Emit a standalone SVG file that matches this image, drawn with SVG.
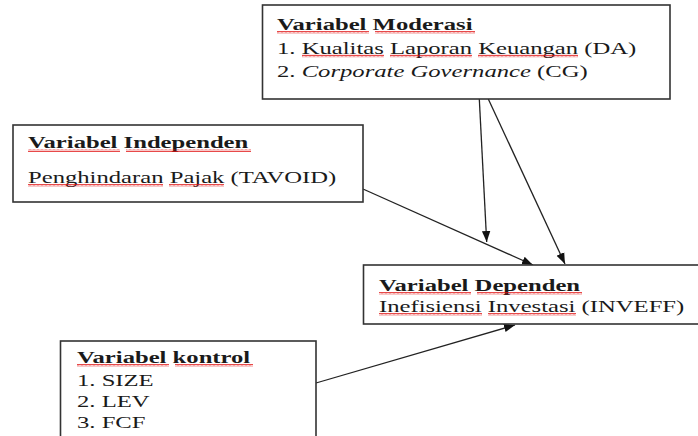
<svg xmlns="http://www.w3.org/2000/svg" width="698" height="436" viewBox="0 0 698 436">
<style>
.box{fill:#fff;stroke:#333;stroke-width:1.6}
.t{font-family:"Liberation Serif","Times New Roman",serif;font-size:16.66px;fill:#1a1a1a}
.b{font-weight:bold}
.i{font-style:italic}
.edge{stroke:#222;stroke-width:1.3;fill:none;marker-end:url(#ah)}
.sq{fill:url(#wavy)}
</style>
<defs>
<marker id="ah" markerUnits="userSpaceOnUse" markerWidth="12" markerHeight="10" refX="11" refY="5" orient="auto">
<path d="M0,0.8 L11,5 L0,9.2 Z" fill="#111"/>
</marker>
<pattern id="wavy" patternUnits="userSpaceOnUse" x="0" y="0" width="4" height="3">
<path d="M0,2.5 L1,0.7 L2,2.5 L3,0.7 L4,2.5" stroke="#e01010" stroke-width="0.8" fill="none"/>
</pattern>
</defs>
<rect width="698" height="436" fill="#fff"/>

<g id="connectors">
<line class="edge" x1="479.3" y1="99" x2="486.7" y2="242"/>
<line class="edge" x1="488.3" y1="99" x2="565" y2="264"/>
<line class="edge" x1="363" y1="189" x2="533" y2="265"/>
<line class="edge" x1="316" y1="383" x2="515" y2="325"/>
</g>

<g id="moderasi">
<rect class="box" x="262.5" y="5" width="407.5" height="94"/>
<text class="t b" transform="translate(277,30) scale(1.48,1)">Variabel Moderasi</text>
<text class="t" transform="translate(277,53.5) scale(1.48,1)">1. Kualitas Laporan Keuangan (DA)</text>
<text class="t" transform="translate(277,77) scale(1.48,1)">2. <tspan class="i">Corporate Governance</tspan> (CG)</text>
<rect class="sq" x="277" y="31" width="92" height="3"/>
<rect class="sq" x="375" y="31" width="100" height="3"/>
<rect class="sq" x="302" y="54.5" width="82" height="3"/>
<rect class="sq" x="390" y="54.5" width="82" height="3"/>
<rect class="sq" x="478" y="54.5" width="100" height="3"/>
</g>

<g id="independen">
<rect class="box" x="13" y="125" width="350" height="77"/>
<text class="t b" transform="translate(28,148) scale(1.48,1)">Variabel Independen</text>
<text class="t" transform="translate(28,183) scale(1.48,1)">Penghindaran Pajak (TAVOID)</text>
<rect class="sq" x="28" y="149" width="92" height="3"/>
<rect class="sq" x="126" y="149" width="125" height="3"/>
<rect class="sq" x="28" y="184" width="135" height="3"/>
<rect class="sq" x="169" y="184" width="55" height="3"/>
</g>

<g id="dependen">
<rect class="box" x="363.5" y="265" width="340" height="59"/>
<text class="t b" transform="translate(379,291) scale(1.48,1)">Variabel Dependen</text>
<text class="t" transform="translate(379,312) scale(1.48,1)">Inefisiensi Investasi (INVEFF)</text>
<rect class="sq" x="379" y="292" width="92" height="3"/>
<rect class="sq" x="477" y="292" width="105" height="3"/>
<rect class="sq" x="379" y="313" width="103" height="3"/>
<rect class="sq" x="488" y="313" width="88" height="3"/>
</g>

<g id="kontrol">
<rect class="box" x="60.5" y="341" width="255.5" height="110"/>
<text class="t b" transform="translate(77,363) scale(1.48,1)">Variabel kontrol</text>
<text class="t" transform="translate(77,385.5) scale(1.48,1)">1. SIZE</text>
<text class="t" transform="translate(77,406.5) scale(1.48,1)">2. LEV</text>
<text class="t" transform="translate(77,428) scale(1.48,1)">3. FCF</text>
<rect class="sq" x="77" y="364" width="92" height="3"/>
<rect class="sq" x="175" y="364" width="78" height="3"/>
</g>
</svg>
